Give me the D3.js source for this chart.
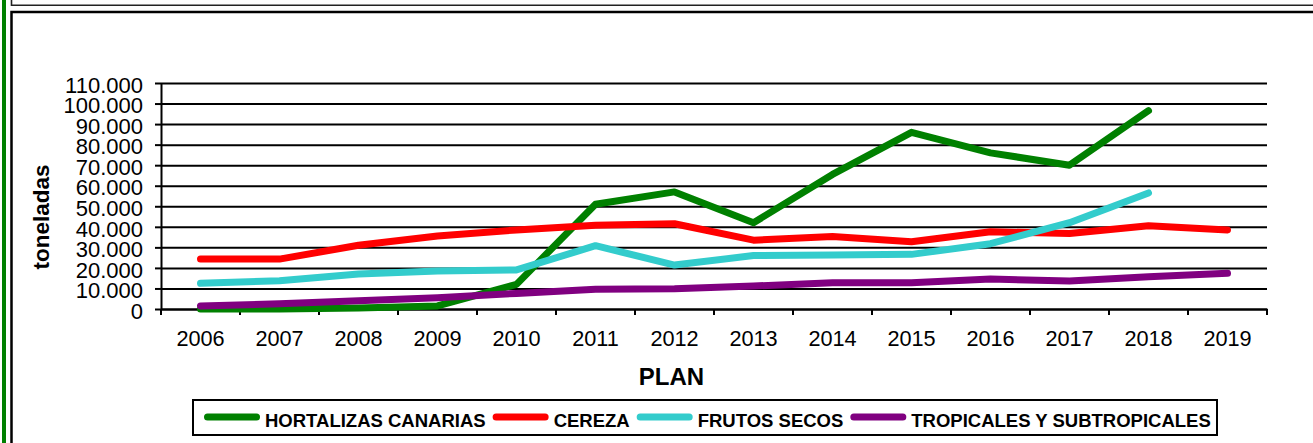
<!DOCTYPE html>
<html>
<head>
<meta charset="utf-8">
<script src="https://cdn.jsdelivr.net/npm/d3@7"></script>
<style>
  body { margin: 0; background: #fff; }
  svg { display: block; font-family: "Liberation Sans", Arial, sans-serif; }
</style>
</head>
<body>
<div id="chart"></div>
<script>
// data (toneladas per plan year)
var years = ["2006","2007","2008","2009","2010","2011","2012","2013","2014","2015","2016","2017","2018","2019"];
var hortalizas = [0, 0, 500, 1500, 12000, 51000, 57000, 42000, 65500, 86000, 76000, 70000, 96500, null];
var cereza = [24300, 24300, 31000, 35500, 38500, 40800, 41500, 33500, 35300, 32700, 37600, 36700, 40500, 38500];
var frutos = [12500, 13800, 17000, 18500, 19000, 30800, 21400, 26000, 26300, 26600, 31800, 42000, 56500, null];
var tropicales = [1500, 2500, 4000, 5500, 7600, 9600, 9900, 11200, 12800, 12800, 14600, 13600, 15700, 17400];
var seriesNames = ["HORTALIZAS CANARIAS", "CEREZA", "FRUTOS SECOS", "TROPICALES Y SUBTROPICALES"];
var yTicks = [0, 10000, 20000, 30000, 40000, 50000, 60000, 70000, 80000, 90000, 100000, 110000];

var colors = ["#008000", "#ff0000", "#33cccc", "#800080"];
var allSeries = [hortalizas, cereza, frutos, tropicales];

var W = 1313, H = 443;
var plotLeft = 161, plotRight = 1267, plotTop = 83, plotBottom = 309;

var svg = d3.select("#chart").append("svg")
    .attr("width", W)
    .attr("height", H);

// outer frame bits
svg.append("line").attr("x1", 4).attr("x2", 4).attr("y1", 0).attr("y2", H)
    .attr("stroke", "#008000").attr("stroke-width", 4);
svg.append("path").attr("d", "M11.5,0V5.2H" + W)
    .attr("fill", "none").attr("stroke", "#222").attr("stroke-width", 1.6);
svg.append("path").attr("d", "M11.5," + H + "V12H" + W)
    .attr("fill", "none").attr("stroke", "#000").attr("stroke-width", 2.5);

var x = d3.scaleBand().domain(years).range([plotLeft, plotRight]).padding(0);
var y = d3.scaleLinear().domain([0, 110000]).range([plotBottom, plotTop]);

var fmt = d3.formatLocale({ decimal: ",", thousands: ".", grouping: [3], currency: ["", ""] }).format(",");

// y axis + gridlines
var yAxis = svg.append("g")
    .attr("transform", "translate(" + plotLeft + ",0)")
    .call(d3.axisLeft(y).tickValues(yTicks).tickFormat(fmt).tickSize(6).tickSizeOuter(0).tickPadding(12));
yAxis.selectAll(".tick").append("line")
    .attr("x1", 0).attr("x2", plotRight - plotLeft)
    .attr("stroke", "#000").attr("stroke-width", 2);
yAxis.selectAll(".tick line").attr("stroke-width", 2);
yAxis.select(".domain").attr("stroke-width", 2);
yAxis.selectAll("text")
    .attr("font-size", "22px").attr("fill", "#000").attr("dy", "0.42em")
    .style("font-family", "'Liberation Sans', Arial, sans-serif");

// x axis: labels at centres, tick marks at band edges
var xAxis = svg.append("g")
    .attr("transform", "translate(0," + plotBottom + ")")
    .call(d3.axisBottom(x).tickSize(0).tickSizeOuter(0).tickPadding(22));
xAxis.select(".domain").attr("stroke-width", 2);
xAxis.selectAll("text")
    .attr("font-size", "21.7px").attr("fill", "#000")
    .style("font-family", "'Liberation Sans', Arial, sans-serif");
xAxis.selectAll(".tick").append("line")
    .attr("x1", -x.step() / 2).attr("x2", -x.step() / 2)
    .attr("y1", 0).attr("y2", 6)
    .attr("stroke", "#000").attr("stroke-width", 2);
xAxis.append("line")
    .attr("x1", plotRight).attr("x2", plotRight).attr("y1", 0).attr("y2", 6)
    .attr("stroke", "#000").attr("stroke-width", 2);

// axis titles
svg.append("text")
    .attr("transform", "translate(49,217) rotate(-90)")
    .attr("text-anchor", "middle")
    .attr("font-size", "22.5px").attr("font-weight", "bold")
    .text("toneladas");
svg.append("text")
    .attr("x", 671.5).attr("y", 385)
    .attr("text-anchor", "middle")
    .attr("font-size", "24px").attr("font-weight", "bold")
    .text("PLAN");

// lines
var line = d3.line()
    .defined(function(d) { return d.v != null; })
    .x(function(d) { return x(d.year) + x.bandwidth() / 2; })
    .y(function(d) { return y(d.v); });

allSeries.forEach(function(vals, i) {
    var pts = years.map(function(yr, j) { return { year: yr, v: vals[j] }; });
    svg.append("path")
        .datum(pts)
        .attr("fill", "none")
        .attr("stroke", colors[i])
        .attr("stroke-width", 7)
        .attr("stroke-linecap", "round")
        .attr("stroke-linejoin", "round")
        .attr("d", line);
});

// legend
var leg = svg.append("g");
leg.append("rect")
    .attr("x", 193).attr("y", 400).attr("width", 1024).attr("height", 35)
    .attr("fill", "#fff").attr("stroke", "#000").attr("stroke-width", 2);
var lx = 204;
seriesNames.forEach(function(name, i) {
    leg.append("line")
        .attr("x1", lx + 3.5).attr("x2", lx + 52.5)
        .attr("y1", 417).attr("y2", 417)
        .attr("stroke", colors[i]).attr("stroke-width", 7)
        .attr("stroke-linecap", "round");
    var t = leg.append("text")
        .attr("x", lx + 61).attr("y", 426.5)
        .attr("font-size", "18.5px").attr("font-weight", "bold")
        .text(name);
    lx = lx + 61 + t.node().getComputedTextLength() + 7;
});
</script>
</body>
</html>
